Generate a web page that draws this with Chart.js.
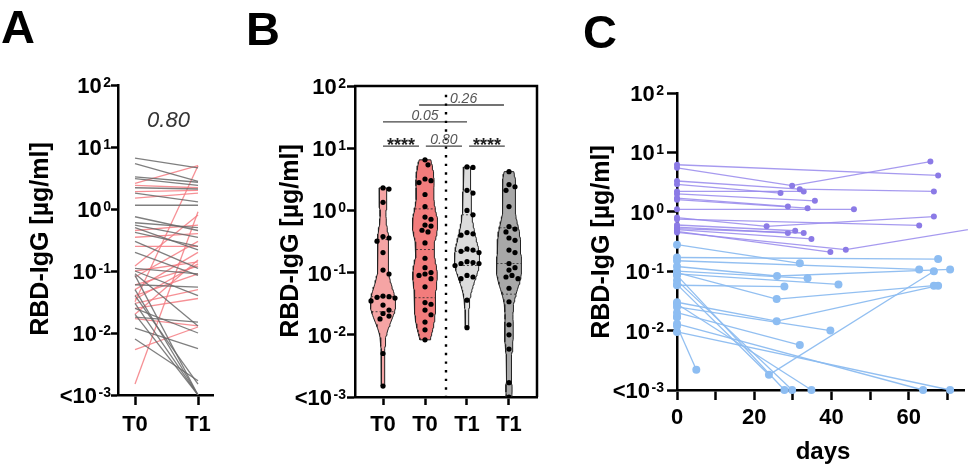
<!DOCTYPE html>
<html><head><meta charset="utf-8">
<script src="https://cdn.jsdelivr.net/npm/chart.js@4.4.1/dist/chart.umd.min.js"></script>
<style>
html,body{margin:0;padding:0;background:#fff;width:968px;height:464px;overflow:hidden}
canvas{position:absolute;left:0;top:0}
</style></head><body>
<canvas id="cA" width="968" height="464"></canvas>
<canvas id="cB" width="968" height="464"></canvas>
<canvas id="cC" width="968" height="464"></canvas>
<script>
const FONT = '"Liberation Sans", Arial, Helvetica, sans-serif';

// ---------------- data ----------------
const logTickExponents = [2, 1, 0, -1, -2, -3];
const yAxisTitle = 'RBD-IgG [µg/ml]';

// Panel A: paired T0 -> T1
const aCategories = ['T0', 'T1'];
const aGreyT0 = [6.6, 5.4, 3.3, 3.1, 2.2, 1.8, 1.15, 0.75, 0.6, 0.55, 0.5, 0.42, 0.3, 0.2, 0.11, 0.1, 0.06, 0.09, 0.085, 0.05, 0.04, 0.03, 0.025, 0.018, 0.012, 0.008, 0.02];
const aGreyT1 = [4.6, 2.8, 2.7, 2.4, 2.1, 1.3, 1.15, 0.45, 0.5, 0.35, 0.22, 0.25, 0.11, 0.085, 0.09, 0.04, 0.055, 0.013, 0.001, 0.001, 0.0015, 0.001, 0.01, 0.015, 0.0056, 0.0017, 0.001];
const aRedT0 = [2.6, 2.4, 1.9, 1.5, 0.45, 0.35, 0.25, 0.12, 0.1, 0.08, 0.06, 0.05, 0.04, 0.035, 0.03, 0.025, 0.02, 0.032, 0.0054, 0.0015, 0.017];
const aRedT1 = [5.0, 2.2, 2.0, 1.8, 0.55, 0.4, 0.25, 0.8, 0.14, 0.3, 0.12, 0.2, 0.09, 0.13, 0.05, 0.036, 0.15, 5.0, 0.0125, 0.9, 0.013];
const aPValue = '0.80';

// Panel B: violins
const bCategories = ['T0', 'T0', 'T1', 'T1'];
const bT0LightValues = [2.3, 2.2, 1.35, 0.38, 0.36, 0.32, 0.21, 0.11, 0.095, 0.042, 0.041, 0.04, 0.039, 0.035, 0.03, 0.025, 0.022, 0.02, 0.018, 0.005, 0.0015];
const bT0DarkValues = [6.5, 5.4, 3.2, 3.0, 2.8, 1.8, 1.15, 0.78, 0.72, 0.58, 0.56, 0.48, 0.45, 0.30, 0.17, 0.12, 0.1, 0.095, 0.09, 0.08, 0.059, 0.033, 0.031, 0.025, 0.021, 0.016, 0.012, 0.0083];
const bT1LightValues = [5.0, 4.9, 2.1, 1.9, 1.0, 0.85, 0.44, 0.42, 0.4, 0.24, 0.23, 0.22, 0.21, 0.15, 0.145, 0.14, 0.14, 0.13, 0.09, 0.085, 0.08, 0.036, 0.013];
const bT1DarkValues = [4.2, 2.6, 2.4, 2.1, 1.15, 0.55, 0.5, 0.45, 0.36, 0.33, 0.23, 0.21, 0.14, 0.12, 0.11, 0.09, 0.085, 0.08, 0.056, 0.034, 0.0145, 0.01, 0.0059, 0.0017, 0.001];
const bComparisonLabels = ['****', '0.80', '****', '0.05', '0.26'];

// Panel C: follow-up per subject (days, values)
const cTickDays = [0, 20, 40, 60];
const purpleDays = [[0, 67.6], [0, 29.8, 65.6], [0, 31.8, 66.5], [0, 26.8], [0, 32.8], [0, 35.7], [0, 28.7], [0, 33.8], [0, 45.8], [0, 23.2, 66.5], [0, 62.7], [0, 30.6], [0, 28.7], [0, 32.8], [0, 34.8], [0, 39.7], [0, 43.7, 80]];
const purpleValues = [[6.2, 4.1], [5.5, 2.75, 7.0], [3.3, 2.4, 2.2], [2.9, 2.07], [2.2, 2.2], [2.0, 1.53], [1.7, 1.23], [1.6, 1.15], [1.1, 1.1], [0.8, 0.57, 0.83], [0.75, 0.59], [0.6, 0.48], [0.55, 0.44], [0.52, 0.44], [0.5, 0.35], [0.47, 0.21], [0.45, 0.23, 0.56]];
const blueDays = [[0, 31.8], [0, 67.6], [0, 62.7], [0, 25.9, 70.7], [0, 33.8], [0, 41.8], [0, 27.8], [0, 25.8, 66.5], [0, 25.8, 67.6], [0, 39.7], [0, 31.8], [0, 23.8, 66.5], [0, 5.0], [0, 27.8], [0, 29.8], [0, 34.8], [0, 63.7], [0, 70.7], [0, 0]];
const blueValues = [[0.28, 0.136], [0.17, 0.16], [0.15, 0.107], [0.12, 0.083, 0.107], [0.1, 0.076], [0.09, 0.06], [0.058, 0.055], [0.095, 0.034, 0.057], [0.03, 0.0144, 0.057], [0.025, 0.01], [0.02, 0.0057], [0.06, 0.0018, 0.1], [0.012, 0.0022], [0.085, 0.001], [0.07, 0.001], [0.028, 0.001], [0.013, 0.001], [0.0095, 0.001], [0.017, 0.017]];

// ---------------- helpers ----------------
const base = {
  responsive: false, animation: false, devicePixelRatio: 1, events: [],
  plugins: { legend: { display: false }, tooltip: { enabled: false } }
};
function logAxis(tickLen) {
  return {
    type: 'logarithmic', min: 0.001, max: 100,
    afterBuildTicks: s => { s.ticks = logTickExponents.map(k => ({ value: Math.pow(10, k) })); },
    ticks: { display: false },
    grid: { drawOnChartArea: false, drawTicks: true, tickLength: tickLen, tickWidth: 2.5, tickColor: '#000' },
    border: { display: true, color: '#000', width: 2.5 }
  };
}
function linAxis(min, max, tickVals, tickLen) {
  return {
    type: 'linear', min: min, max: max,
    afterBuildTicks: s => { s.ticks = tickVals.map(v => ({ value: v })); },
    ticks: { display: false },
    grid: { drawOnChartArea: false, drawTicks: true, tickLength: tickLen, tickWidth: 2.5, tickColor: '#000' },
    border: { display: true, color: '#000', width: 2.5 }
  };
}
function drawLogTickLabels(chart, rightX) {
  const ctx = chart.ctx, ys = chart.scales.y;
  ctx.fillStyle = '#000'; ctx.textAlign = 'left'; ctx.textBaseline = 'alphabetic';
  logTickExponents.forEach(k => {
    const py = ys.getPixelForValue(Math.pow(10, k));
    const b = k === -3 ? '<10' : '10';
    const e = String(k);
    ctx.font = 'bold 22px ' + FONT; const wb = ctx.measureText(b).width;
    ctx.font = 'bold 14px ' + FONT; const we = ctx.measureText(e).width;
    const x0 = rightX - wb - we - 1.5;
    ctx.font = 'bold 22px ' + FONT; ctx.fillText(b, x0, py + 8);
    ctx.font = 'bold 14px ' + FONT; ctx.fillText(e, x0 + wb + 1.5, py + 1.5);
  });
}
function drawXLabels(chart, vals, texts, cy) {
  const ctx = chart.ctx, xs = chart.scales.x;
  ctx.fillStyle = '#000'; ctx.textAlign = 'center'; ctx.textBaseline = 'middle';
  ctx.font = 'bold 22px ' + FONT;
  vals.forEach((v, i) => ctx.fillText(texts[i], xs.getPixelForValue(v), cy));
}
function drawYTitle(ctx, cx, cy) {
  ctx.save(); ctx.translate(cx, cy); ctx.rotate(-Math.PI / 2);
  ctx.fillStyle = '#000'; ctx.textAlign = 'center'; ctx.textBaseline = 'middle';
  ctx.font = 'bold 25px ' + FONT; ctx.fillText(yAxisTitle, 0, 0);
  ctx.restore();
}
function drawLetter(ctx, letter, x, y) {
  ctx.fillStyle = '#000'; ctx.textAlign = 'left'; ctx.textBaseline = 'alphabetic';
  ctx.font = 'bold 47px ' + FONT; ctx.fillText(letter, x, y);
}

// ---------------- Panel A ----------------
const aDatasets = [];
aGreyT0.forEach((v, i) => aDatasets.push({
  data: [{ x: 0, y: v }, { x: 1, y: aGreyT1[i] }],
  borderColor: 'rgba(105,105,105,0.85)', borderWidth: 1.3, pointRadius: 0
}));
aRedT0.forEach((v, i) => aDatasets.push({
  data: [{ x: 0, y: v }, { x: 1, y: aRedT1[i] }],
  borderColor: 'rgba(244,125,130,0.85)', borderWidth: 1.3, pointRadius: 0
}));
new Chart(document.getElementById('cA'), {
  type: 'line',
  data: { datasets: aDatasets },
  options: Object.assign({}, base, {
    layout: { padding: { left: 111, right: 755, top: 85, bottom: 59 } },
    scales: { x: linAxis(-0.27, 1.238, [0, 1], 10), y: logAxis(7) }
  }),
  plugins: [{
    id: 'txtA', afterDraw(chart) {
      const ctx = chart.ctx; ctx.save();
      drawLogTickLabels(chart, 111);
      drawXLabels(chart, [0, 1], aCategories, 425);
      drawYTitle(ctx, 41, 239);
      drawLetter(ctx, 'A', 1, 43);
      ctx.fillStyle = '#333'; ctx.textAlign = 'center'; ctx.textBaseline = 'alphabetic';
      ctx.font = 'italic 22px ' + FONT;
      ctx.fillText(aPValue, (chart.scales.x.getPixelForValue(0) + chart.scales.x.getPixelForValue(1)) / 2 + 2, 127);
      ctx.restore();
    }
  }]
});

// ---------------- Panel B ----------------
function kde(values, bw) {
  const logs = values.map(v => Math.log10(v));
  return t => logs.reduce((s, l) => s + Math.exp(-0.5 * Math.pow((t - l) / bw, 2)), 0);
}
function quantile(sorted, p) {
  const h = (sorted.length + 1) * p - 1;
  const lo = Math.max(0, Math.min(sorted.length - 1, Math.floor(h)));
  const hi = Math.min(sorted.length - 1, lo + 1);
  const f = h - Math.floor(h);
  return sorted[lo] + (sorted[hi] - sorted[lo]) * f;
}
function swarm(values, pos) {
  const PXD = 62.2, PXU = 42, D = 5.8, STEP = 3;
  const placed = [];
  return values.slice().sort((a, b) => b - a).map(v => {
    const py = Math.log10(v) * PXD;
    let off = 0;
    for (let k = 0; k < 40; k++) {
      const cand = (k % 2 ? 1 : -1) * Math.ceil(k / 2) * STEP;
      if (placed.every(p => Math.hypot(p.px - cand, p.py - py) >= D)) { off = cand; break; }
    }
    placed.push({ px: off, py: py });
    return { x: pos + off / PXU, y: v };
  });
}
const bGroups = [
  { values: bT0LightValues, pos: 1, fill: '#f5a4a4' },
  { values: bT0DarkValues, pos: 2, fill: '#f27c7c' },
  { values: bT1LightValues, pos: 3, fill: '#dcdcdc' },
  { values: bT1DarkValues, pos: 4, fill: '#a8a8a8' }
];
const bDatasets = [];
const MAXHW = 0.3, BW = 0.24;
bGroups.forEach(g => {
  const f = kde(g.values, BW);
  const logs = g.values.map(v => Math.log10(v));
  const lo = Math.min(...logs), hi = Math.max(...logs);
  const N = 90, samples = [];
  for (let i = 0; i <= N; i++) { const t = lo + (hi - lo) * i / N; samples.push([t, f(t)]); }
  const maxD = Math.max(...samples.map(s => s[1]));
  const hw = t => MAXHW * f(t) / maxD;
  const right = samples.map(s => ({ x: g.pos + MAXHW * s[1] / maxD, y: Math.pow(10, s[0]) }));
  const left = samples.slice().reverse().map(s => ({ x: g.pos - MAXHW * s[1] / maxD, y: Math.pow(10, s[0]) }));
  bDatasets.push({
    data: right.concat(left, [right[0]]), order: 3,
    borderColor: '#222', borderWidth: 1, backgroundColor: g.fill, fill: 'shape', pointRadius: 0, tension: 0
  });
  const sorted = g.values.slice().sort((a, b) => a - b);
  [0.25, 0.5, 0.75].forEach(p => {
    const q = quantile(sorted, p); const w = hw(Math.log10(q));
    bDatasets.push({
      data: [{ x: g.pos - w, y: q }, { x: g.pos + w, y: q }], order: 2,
      borderColor: 'rgba(40,40,40,0.8)', borderWidth: 1, borderDash: [2, 2], pointRadius: 0, fill: false
    });
  });
  bDatasets.push({
    data: swarm(g.values, g.pos), order: 0, showLine: false,
    pointRadius: 2.6, pointBackgroundColor: '#000', pointBorderWidth: 0
  });
});
// divider and comparison brackets
bDatasets.push({ data: [{ x: 2.5, y: 72 }, { x: 2.5, y: 0.001 }], order: 1, borderColor: '#000', borderWidth: 2.4, borderDash: [2.4, 6.2], pointRadius: 0, fill: false });
const bBrackets = [[1, 1.857, 10.8], [2.02, 2.88, 10.8], [3.05, 3.9, 10.8], [1, 3, 26.5], [1.86, 3.88, 49.5]];
bBrackets.forEach(b => bDatasets.push({
  data: [{ x: b[0], y: b[2] }, { x: b[1], y: b[2] }], order: 1,
  borderColor: '#444', borderWidth: 1.3, pointRadius: 0, fill: false, clip: false
}));
new Chart(document.getElementById('cB'), {
  type: 'line',
  data: { datasets: bDatasets },
  options: Object.assign({}, base, {
    layout: { padding: { left: 347, right: 431, top: 86, bottom: 59 } },
    scales: { x: linAxis(0.333, 4.667, [1, 2, 3, 4], 8), y: logAxis(8) }
  }),
  plugins: [{
    id: 'txtB', afterDraw(chart) {
      const ctx = chart.ctx, a = chart.chartArea, xs = chart.scales.x, ys = chart.scales.y;
      ctx.save();
      ctx.strokeStyle = '#000'; ctx.lineWidth = 2.5;
      ctx.beginPath(); ctx.moveTo(a.left - 1, a.top); ctx.lineTo(a.right, a.top); ctx.lineTo(a.right, a.bottom); ctx.stroke();
      drawLogTickLabels(chart, 346);
      drawXLabels(chart, [1, 2, 3, 4], bCategories, 425);
      drawYTitle(ctx, 291, 241);
      drawLetter(ctx, 'B', 246, 45);
      ctx.textAlign = 'center'; ctx.textBaseline = 'alphabetic';
      bBrackets.forEach((b, i) => {
        const cx = (xs.getPixelForValue(b[0]) + xs.getPixelForValue(b[1])) / 2;
        const py = ys.getPixelForValue(b[2]);
        const lab = bComparisonLabels[i];
        if (lab === '****') { ctx.font = 'bold 18px ' + FONT; ctx.fillStyle = '#222'; ctx.fillText(lab, cx, py + 5); }
        else { ctx.font = 'italic 14px ' + FONT; ctx.fillStyle = '#555'; ctx.fillText(lab, cx + (i === 4 ? 2 : 0), py - 2); }
      });
      ctx.restore();
    }
  }]
});

// ---------------- Panel C ----------------
const cDatasets = [];
purpleDays.forEach((days, i) => cDatasets.push({
  data: days.map((d, j) => ({ x: d, y: purpleValues[i][j] })),
  borderColor: 'rgba(150,136,236,0.85)', borderWidth: 1.3,
  pointRadius: 3, pointBackgroundColor: '#8b7ae6', pointBorderWidth: 0, clip: false, fill: false
}));
blueDays.forEach((days, i) => cDatasets.push({
  data: days.map((d, j) => ({ x: d, y: blueValues[i][j] })),
  borderColor: 'rgba(140,188,240,0.95)', borderWidth: 1.3,
  pointRadius: 4, pointBackgroundColor: '#8dbdf2', pointBorderWidth: 0, clip: false, fill: false
}));
new Chart(document.getElementById('cC'), {
  type: 'line',
  data: { datasets: cDatasets },
  options: Object.assign({}, base, {
    layout: { padding: { left: 667, right: 0, top: 93, bottom: 64 } },
    scales: { x: linAxis(0, 74.3, [0, 10, 20, 30, 40, 50, 60, 70], 10), y: logAxis(10) }
  }),
  plugins: [{
    id: 'txtC', afterDraw(chart) {
      const ctx = chart.ctx; ctx.save();
      drawLogTickLabels(chart, 664);
      drawXLabels(chart, cTickDays, cTickDays.map(String), 418);
      ctx.fillStyle = '#000'; ctx.textAlign = 'center'; ctx.textBaseline = 'middle';
      ctx.font = 'bold 24px ' + FONT; ctx.fillText('days', 823, 452);
      drawYTitle(ctx, 602, 242);
      drawLetter(ctx, 'C', 583, 48);
      ctx.restore();
    }
  }]
});
</script></body></html>
